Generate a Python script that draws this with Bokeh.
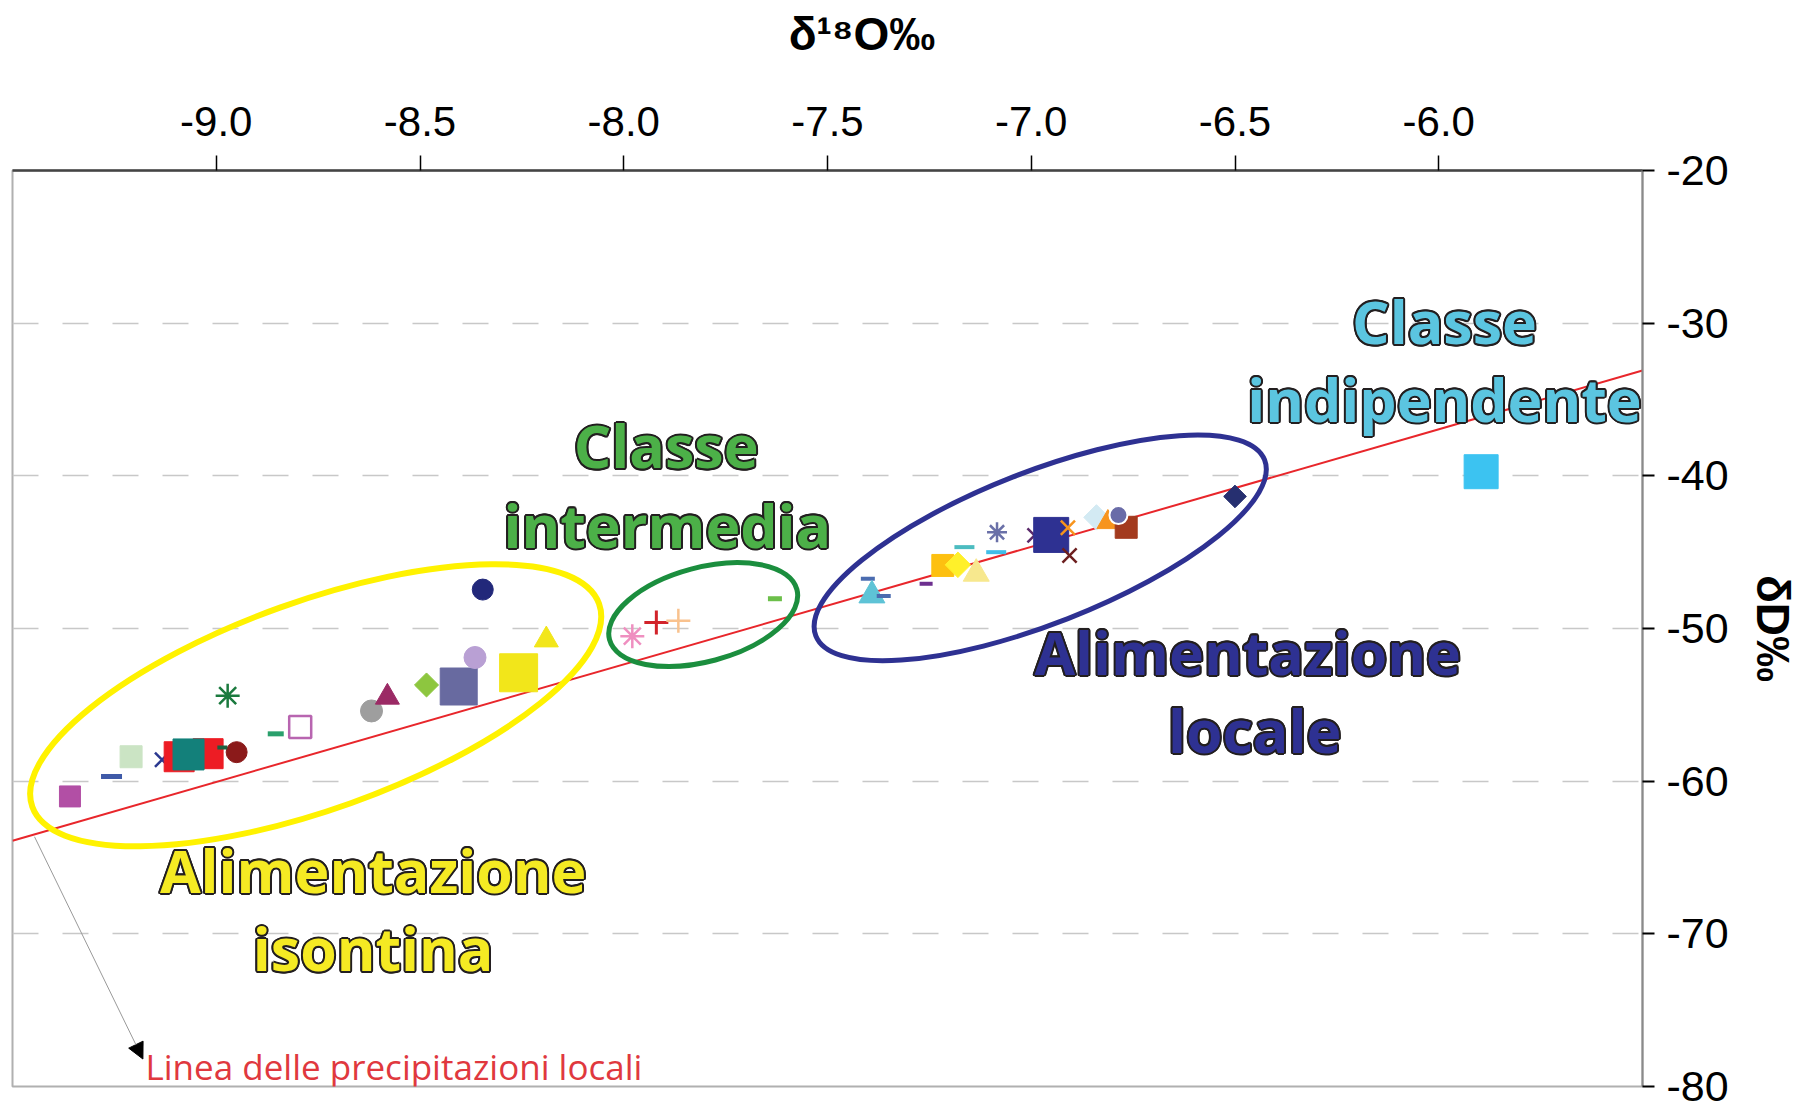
from bokeh.plotting import figure
from bokeh.models import (ColumnDataSource, FixedTicker, PrintfTickFormatter,
                          Arrow, NormalHead, Range1d)
from bokeh.core.properties import value
from bokeh.embed import file_html
from bokeh.resources import INLINE
import numpy as np

# ---------------- data ----------------
x_ticks = [-9.0, -8.5, -8.0, -7.5, -7.0, -6.5, -6.0]
y_ticks = [-80, -70, -60, -50, -40, -30, -20]

# sample values (delta 18O, delta D)
d18o = [-9.359, -9.257, -9.209, -9.133, -9.091, -9.020, -9.068, -8.950, -8.985,
        -8.972, -8.854, -8.794, -8.619, -8.580, -8.484, -8.405, -8.365, -8.346,
        -8.258, -8.190,
        -7.979, -7.920, -7.866, -7.629,
        -7.401, -7.391, -7.362, -7.258, -7.217, -7.180, -7.135, -7.164, -7.086,
        -7.084, -6.992, -6.951, -6.910, -6.906, -6.840, -6.812, -6.767, -6.786,
        -6.500,
        -5.896]
dd = [-61.0, -59.7, -58.4, -58.6, -58.4, -58.2, -58.25, -58.1, -57.8,
      -54.4, -56.9, -56.45, -55.4, -54.5, -53.7, -53.8, -51.9, -47.45,
      -52.9, -50.75,
      -50.5, -49.6, -49.5, -48.05,
      -46.74, -47.83, -47.87, -47.07, -45.87, -45.83, -46.41, -44.67, -45.0,
      -43.7, -43.9, -43.87, -43.4, -45.22, -42.72, -43.04, -43.37, -42.57,
      -41.35,
      -39.73]

# marker styles (separate from values)
markers = ["square", "dash", "square", "x", "square", "square", "square", "circle", "dash",
           "asterisk", "dash", "square", "circle", "triangle", "square", "square", "circle", "circle",
           "square", "triangle",
           "asterisk", "cross", "cross", "dash",
           "dash", "triangle", "dash", "dash", "square", "square", "triangle", "dash", "dash",
           "asterisk", "x", "square", "x", "x", "square", "triangle", "square", "circle",
           "square",
           "square"]
colors = ["#b24fa5", "#3f5aa8", "#cbe4c4", "#2b3990", "#ed1c24", "#ed1c24", "#13807a", "#8b1a1a", "#1f5f3f",
          "#1b7a3e", "#2aa06c", "#b865b0", "#9e9e9e", "#9b2a65", "#8dc63f", "#686aa0", "#b9a0d4", "#22287a",
          "#f2e61a", "#f2e61a",
          "#ef8fc0", "#d2232a", "#f9c28e", "#6cbf4a",
          "#4b6cb0", "#5ec3d6", "#4b6cb0", "#6d2f8f", "#fdc010", "#fff02a", "#f7e88e", "#4cbcc0", "#3fbde8",
          "#6a70a8", "#5b2a6b", "#2e3192", "#f7941d", "#6d1f1f", "#d3eaf3", "#f7941d", "#a33a1e", "#6a6ca8",
          "#262f70",
          "#3cc3f1"]
sizes = [21, 21, 22, 20, 30, 30, 31, 21, 10,
         24, 16, 22, 22, 24, 17, 37, 22, 21,
         38, 24,
         24, 24, 24, 14,
         14, 26, 14, 13, 22, 18, 26, 20, 20,
         20, 20, 35, 20, 20, 18, 22, 22, 18,
         16,
         34]
angles = [0, 0, 0, 0, 0, 0, 0, 0, 0,
          0, 0, 0, 0, 0, 45, 0, 0, 0,
          0, 0,
          0, 0, 0, 0,
          0, 0, 0, 0, 0, 45, 0, 0, 0,
          0, 0, 0, 0, 0, 45, 0, 0, 0,
          45,
          0]
line_w = [1, 5, 1, 2.5, 1, 1, 1, 1, 4,
          2.5, 5, 2.5, 1, 1, 1, 1, 1, 1,
          1, 1,
          2.5, 3, 2.5, 5,
          4, 1, 4, 4, 1, 1, 1, 4, 4,
          2.5, 2.5, 1, 2.5, 2.5, 1, 1, 1, 2,
          1,
          1]

# local meteoric water line end points
lmwl_x = [-9.5, -5.5]
lmwl_y = [-63.9, -33.1]

fill_colors = []
line_colors = []
for i, c in enumerate(colors):
    if i == 11:
        fill_colors.append("white"); line_colors.append(c)
    elif i == 41:
        fill_colors.append(c); line_colors.append("white")
    else:
        fill_colors.append(c); line_colors.append(c)

src = ColumnDataSource(dict(x=d18o, y=dd, marker=markers, fill=fill_colors,
                            line=line_colors, size=sizes,
                            angle=[np.radians(a) for a in angles], lw=line_w))

p = figure(width=1803, height=1110, output_backend="svg", toolbar_location=None,
           x_range=Range1d(-9.5, -5.5), y_range=Range1d(-80, -20),
           x_axis_location="above", y_axis_location="right",
           min_border_left=12, min_border_right=161, min_border_top=170,
           min_border_bottom=24)
p.background_fill_color = "white"
p.border_fill_color = "white"
p.outline_line_color = "#b0b0b0"
p.outline_line_width = 2
p.title.text = ""
p.title.standoff = 0

# axes
xa = p.xaxis[0]
xa.ticker = FixedTicker(ticks=x_ticks)
xa.formatter = PrintfTickFormatter(format="%.1f")
xa.major_label_text_font = "Liberation Sans"
xa.major_label_text_font_size = "42px"
xa.major_label_text_color = "black"
xa.major_label_standoff = 20
xa.major_tick_out = 15
xa.major_tick_in = 0
xa.major_tick_line_color = "black"
xa.major_tick_line_width = 1.5
xa.minor_tick_line_color = None
xa.axis_line_color = "#444444"
xa.axis_line_width = 2.5
xa.axis_label = "\u2003\u2002δ¹⁸O‰"
xa.axis_label_text_font = "Liberation Sans"
xa.axis_label_text_font_style = "bold"
xa.axis_label_text_font_size = "46px"
xa.axis_label_text_color = "black"
xa.axis_label_standoff = 44

ya = p.yaxis[0]
ya.ticker = FixedTicker(ticks=y_ticks)
ya.formatter = PrintfTickFormatter(format="%d")
ya.major_label_text_font = "Liberation Sans"
ya.major_label_text_font_size = "43px"
ya.major_label_text_color = "black"
ya.major_label_standoff = 12
ya.major_tick_out = 12
ya.major_tick_in = 0
ya.major_tick_line_color = "black"
ya.major_tick_line_width = 2
ya.minor_tick_line_color = None
ya.axis_line_color = "#8a8a8a"
ya.axis_line_width = 2
ya.axis_label = "δD‰"
ya.axis_label_text_font = "Liberation Sans"
ya.axis_label_text_font_style = "bold"
ya.axis_label_text_font_size = "46px"
ya.axis_label_text_color = "black"
ya.axis_label_standoff = 15

p.xgrid.grid_line_color = None
p.ygrid.ticker = FixedTicker(ticks=[-70, -60, -50, -40, -30])
p.ygrid.grid_line_color = "#c8c8c8"
p.ygrid.grid_line_width = 1.5
p.ygrid.grid_line_dash = "26 24"

# LMWL
p.line(lmwl_x, lmwl_y, line_color="#e8262b", line_width=2)

# group ellipses (annotation shapes, screen-sized)
p.ellipse(x=[-8.756], y=[-55.03], width=[602], height=[208], angle=[np.radians(19.7)],
          width_units="screen", height_units="screen",
          fill_alpha=0, line_color="#fff200", line_width=6)
p.ellipse(x=[-7.805], y=[-49.09], width=[194], height=[94], angle=[np.radians(15)],
          width_units="screen", height_units="screen",
          fill_alpha=0, line_color="#1b8e3e", line_width=5)
p.ellipse(x=[-6.978], y=[-44.72], width=[482], height=[152], angle=[np.radians(21.4)],
          width_units="screen", height_units="screen",
          fill_alpha=0, line_color="#2e3192", line_width=5)

# points
p.scatter(x="x", y="y", marker="marker", size="size", angle="angle",
          fill_color="fill", line_color="line", line_width="lw", source=src)

# group labels with a thin dark outline
ring = [(2.0 * np.cos(t), 2.0 * np.sin(t)) for t in np.linspace(0, 2 * np.pi, 12, endpoint=False)]

def big_text(xs, ys, txt, col):
    common = dict(text_font=value("Open Sans"), text_font_style="bold", text_font_size="59px",
                  text_align="center", text_baseline="alphabetic")
    for dx, dy in ring:
        p.text(x=xs, y=ys, text=txt, text_color="#231f20", x_offset=dx, y_offset=dy, **common)
    p.text(x=xs, y=ys, text=txt, text_color=col, **common)

big_text([-5.986, -5.986], [-29.85, -34.94], ["Classe", "indipendente"], "#5bc5e0")
big_text([-7.896, -7.893], [-38.0, -43.2], ["Classe", "intermedia"], "#4cb048")
big_text([-6.469, -6.452], [-51.52, -56.63], ["Alimentazione", "locale"], "#2e3192")
big_text([-8.615, -8.615], [-65.79, -70.95], ["Alimentazione", "isontina"], "#f5ea23")

p.text(x=[-8.564], y=[-78.7], text=["Linea delle precipitazioni locali"],
       text_color="#e0383e", text_font=value("Open Sans"), text_font_size="35px",
       text_align="center", text_baseline="alphabetic")

p.add_layout(Arrow(end=NormalHead(size=16, fill_color="black", line_color="black"),
                   x_start=-9.446, y_start=-63.64, x_end=-9.18, y_end=-78.2,
                   line_color="#999999", line_width=1))

open("out.html", "w").write(file_html(p, INLINE))
